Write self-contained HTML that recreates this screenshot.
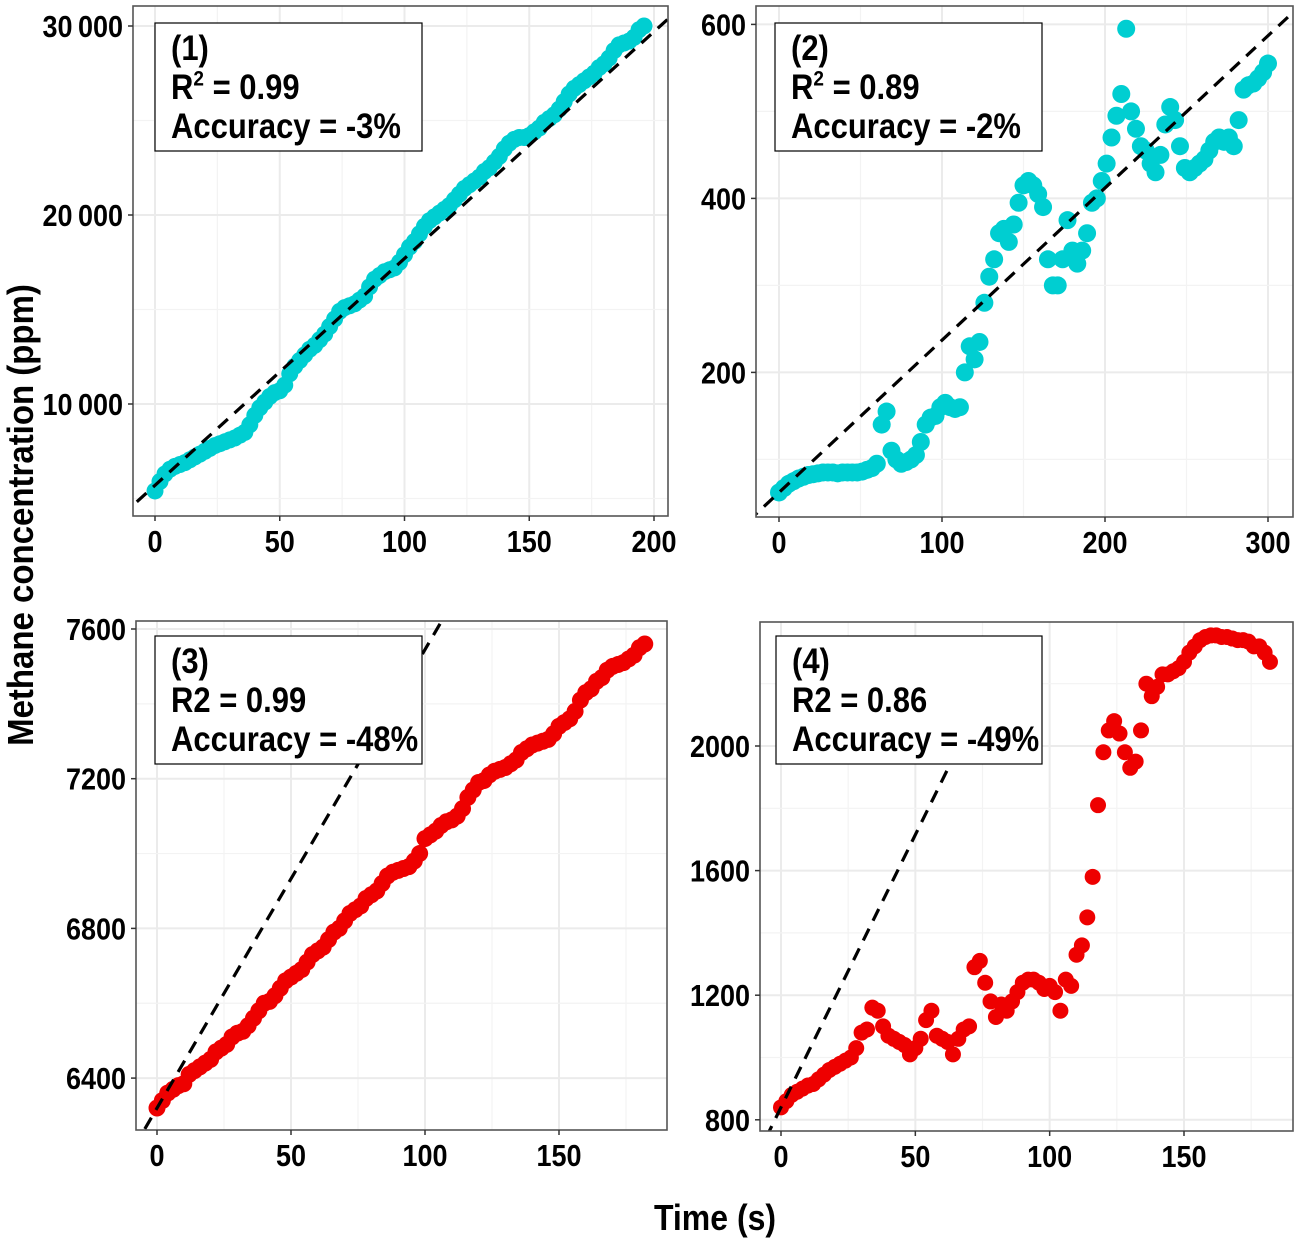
<!DOCTYPE html>
<html><head><meta charset="utf-8">
<style>
html,body{margin:0;padding:0;background:#fff;}
svg{display:block;font-family:"Liberation Sans",Arial,sans-serif;}
</style></head>
<body>
<svg id="chart" width="1296" height="1240" viewBox="0 0 1296 1240" xmlns="http://www.w3.org/2000/svg">
<text x="0" y="0" transform="translate(33,515) rotate(-90) scale(1,1.1)" text-anchor="middle" font-size="33" font-weight="bold">Methane concentration (ppm)</text>
<text x="0" y="0" transform="translate(715,1230) scale(1,1.12)" text-anchor="middle" font-size="32" font-weight="bold">Time (s)</text>
</svg>
<script>
// ---- Panel 1 data (every 2 s) ----
const p1Start = 0, p1Step = 2;
const p1Values = [5400,5900,6300,6550,6700,6800,6900,7050,7200,7350,7500,7650,7800,7900,8000,8100,8200,8350,8500,8900,9400,9800,10100,10400,10600,10700,11000,11600,12000,12300,12600,12900,13100,13400,13700,14100,14500,14900,15100,15200,15300,15500,15700,16200,16600,16800,17000,17100,17200,17500,17900,18300,18600,19000,19400,19700,19900,20100,20300,20500,20800,21100,21400,21600,21800,22000,22300,22500,22800,23100,23500,23800,24000,24100,24100,24200,24400,24600,24900,25100,25300,25600,26000,26400,26700,26900,27100,27300,27500,27800,28000,28300,28700,29000,29100,29200,29400,29800,30000];
const p1XTicks = [0,50,100,150,200];
const p1YTicks = [10000,20000,30000];
const p1YTickLabels = ["10\u2009000","20\u2009000","30\u2009000"];
const p1Fit = [5700,120];
const p1Labels = ["(1)","R\u00b2 = 0.99","Accuracy = -3%"];

// ---- Panel 2 data (every 3 s) ----
const p2Start = 0, p2Step = 3;
const p2Values = [62,67,72,75,78,80,82,83,84,85,85,85,84,85,85,85,85,86,88,90,95,140,155,110,100,95,97,100,105,120,140,148,150,160,165,160,158,160,200,230,215,235,280,310,330,360,365,350,370,395,415,420,415,405,390,330,300,300,330,375,340,325,340,360,395,400,420,440,470,495,520,595,500,480,460,455,440,430,450,485,505,490,460,435,430,435,440,445,455,465,470,465,470,460,490,525,530,532,538,545,555];
const p2XTicks = [0,100,200,300];
const p2YTicks = [200,400,600];
const p2YTickLabels = ["200","400","600"];
const p2Fit = [62,1.75];
const p2Labels = ["(2)","R\u00b2 = 0.89","Accuracy = -2%"];

// ---- Panel 3 data (every 2 s) ----
const p3Start = 0, p3Step = 2;
const p3Values = [6320,6340,6360,6370,6380,6385,6410,6420,6430,6440,6450,6470,6480,6490,6510,6520,6525,6540,6560,6580,6600,6605,6620,6640,6660,6670,6680,6690,6710,6730,6740,6750,6770,6790,6800,6820,6840,6850,6860,6880,6890,6900,6920,6940,6950,6955,6960,6965,6980,7000,7040,7050,7060,7075,7085,7090,7100,7120,7150,7170,7190,7195,7210,7220,7225,7230,7240,7250,7270,7280,7290,7295,7300,7305,7320,7340,7350,7360,7380,7410,7430,7440,7460,7470,7490,7500,7505,7510,7520,7530,7550,7560];
const p3XTicks = [0,50,100,150];
const p3YTicks = [6400,6800,7200,7600];
const p3YTickLabels = ["6400","6800","7200","7600"];
const p3Fit = [6320,12.25];
const p3Labels = ["(3)","R2 = 0.99","Accuracy = -48%"];

// ---- Panel 4 data (every 2 s) ----
const p4Start = 0, p4Step = 2;
const p4Values = [840,860,880,890,900,910,915,930,945,960,970,980,990,1000,1030,1080,1090,1160,1150,1100,1070,1060,1050,1040,1010,1030,1060,1120,1150,1070,1060,1050,1010,1060,1090,1100,1290,1310,1240,1180,1130,1170,1150,1180,1210,1240,1250,1250,1240,1220,1230,1210,1150,1250,1230,1330,1360,1450,1580,1810,1980,2050,2080,2040,1980,1930,1950,2050,2200,2160,2190,2230,2230,2240,2250,2270,2300,2320,2340,2350,2355,2355,2350,2350,2345,2340,2340,2335,2320,2320,2300,2270];
const p4XTicks = [0,50,100,150];
const p4YTicks = [800,1200,1600,2000];
const p4YTickLabels = ["800","1200","1600","2000"];
const p4Fit = [840,17.5];
const p4Labels = ["(4)","R2 = 0.86","Accuracy = -49%"];

const NS = "http://www.w3.org/2000/svg";
const svg = document.getElementById("chart");
function mk(tag, attrs, parent){
  const e = document.createElementNS(NS, tag);
  for (const k in attrs) e.setAttribute(k, attrs[k]);
  (parent||svg).appendChild(e);
  return e;
}

function panel(cfg){
  const g = mk("g", {});
  
  
  const L=cfg.L,R=cfg.R,T=cfg.T,B=cfg.B;
  const sx = v => cfg.x0px + (v - 0) * cfg.xs;
  const sy = v => cfg.yRefPx - (v - cfg.yRef) * cfg.ys;
  const cid = cfg.name + "-clip";
  const defs = mk("defs", {}, g);
  const cp = mk("clipPath", {id: cid}, defs);
  mk("rect", {x:L, y:T, width:R-L, height:B-T}, cp);
  const xt = cfg.xTicks, yt = cfg.yTicks;
  const dx = xt[1]-xt[0], dy = yt[1]-yt[0];
  for (let v = xt[0]-dx/2; sx(v) < R; v += dx/2){
    if (sx(v) <= L) continue;
    const major = Math.abs(((v - xt[0]) / dx) % 1) < 1e-6;
    const ln = mk("line", {x1:sx(v), x2:sx(v), y1:T, y2:B, stroke: major?"#ebebeb":"#f3f3f3", "stroke-width": major?2:1.2}, g);
    
    
  }
  for (let v = yt[0]-dy; sy(v) > T; v += dy/2){
    if (sy(v) >= B) continue;
    const major = Math.abs(((v - yt[0]) / dy) % 1) < 1e-6;
    const ln = mk("line", {x1:L, x2:R, y1:sy(v), y2:sy(v), stroke: major?"#ebebeb":"#f3f3f3", "stroke-width": major?2:1.2}, g);
    
    
  }
  const pg = mk("g", {"clip-path":"url(#"+cid+")"}, g);
  
  
  cfg.values.forEach((v,i)=>{
    const t = cfg.start + i*cfg.step;
    const c = mk("circle", {cx:sx(t), cy:sy(v), r:cfg.r, fill:cfg.color}, pg);
    
    
  });
  const tA = (L - cfg.x0px)/cfg.xs - 5;
  const tB = cfg.fitEnd !== undefined ? cfg.fitEnd : (R - cfg.x0px)/cfg.xs + 5;
  const fl = mk("line", {x1:sx(tA), y1:sy(cfg.fit[0]+cfg.fit[1]*tA), x2:sx(tB), y2:sy(cfg.fit[0]+cfg.fit[1]*tB), stroke:"#000", "stroke-width":3.2, "stroke-dasharray":"13 9", "clip-path":"url(#"+cid+")"}, g);
  
  
  const fr = mk("rect", {x:L, y:T, width:R-L, height:B-T, fill:"none", stroke:"#555", "stroke-width":1.6}, g);
  
  
  xt.forEach(v=>{
    mk("line", {x1:sx(v), x2:sx(v), y1:B, y2:B+5, stroke:"#333", "stroke-width":1.5}, g);
    const tx = mk("text", {x:0, y:0, transform:"translate("+sx(v)+","+(B+36)+") scale(1,1.14)", "text-anchor":"middle", "font-size":27, "font-weight":"bold"}, g);
    tx.textContent = v;
    
    
  });
  yt.forEach((v,i)=>{
    mk("line", {x1:L-5, x2:L, y1:sy(v), y2:sy(v), stroke:"#333", "stroke-width":1.5}, g);
    const tx = mk("text", {x:0, y:0, transform:"translate("+(L-10)+","+(sy(v)+11)+") scale(1,1.14)", "text-anchor":"end", "font-size":27, "font-weight":"bold"}, g);
    tx.textContent = cfg.yLabels[i];
    
    
  });
  const bx = mk("rect", {x:cfg.box[0], y:cfg.box[1], width:cfg.box[2], height:cfg.box[3], fill:"#fff", stroke:"#000", "stroke-width":1.2}, g);
  
  
  cfg.labels.forEach((s,i)=>{
    const tx = mk("text", {x:0, y:0, transform:"translate("+(cfg.box[0]+16)+","+(cfg.box[1]+37+i*39)+") scale(1,1.13)", "font-size":31, "font-weight":"bold"}, g);
    if (s.indexOf("\u00b2")>=0){
      tx.textContent = "R";
      const ts = mk("tspan", {"font-size":19, dy:-12}, tx); ts.textContent = "2";
      const ts2 = mk("tspan", {dy:12}, tx); ts2.textContent = s.slice(2);
    } else tx.textContent = s;
    
    
  });
}

panel({name:"panel-1", L:133,R:668,T:6,B:516, x0px:155, xs:499/200, yRef:30000, yRefPx:26, ys:189/10000,
  xTicks:p1XTicks, yTicks:p1YTicks, yLabels:p1YTickLabels, values:p1Values, start:p1Start, step:p1Step, r:8.5,
  color:"#00CED1", fit:p1Fit, labels:p1Labels, box:[155,23,267,128]});
panel({name:"panel-2", L:756,R:1293,T:6,B:517, x0px:779, xs:489/300, yRef:600, yRefPx:24.4, ys:174/200,
  xTicks:p2XTicks, yTicks:p2YTicks, yLabels:p2YTickLabels, values:p2Values, start:p2Start, step:p2Step, r:9,
  color:"#00CED1", fit:p2Fit, labels:p2Labels, box:[775,23,267,128]});
panel({name:"panel-3", L:136,R:667,T:621,B:1130, x0px:157, xs:402/150, yRef:7600, yRefPx:629, ys:149.7/400,
  xTicks:p3XTicks, yTicks:p3YTicks, yLabels:p3YTickLabels, values:p3Values, start:p3Start, step:p3Step, r:8.5,
  color:"#EE0000", fit:p3Fit, labels:p3Labels, box:[155,636,267,128]});
panel({name:"panel-4", L:760,R:1293,T:622,B:1131, x0px:781, xs:403/150, yRef:2000, yRefPx:746, ys:124.6/400,
  xTicks:p4XTicks, yTicks:p4YTicks, yLabels:p4YTickLabels, values:p4Values, start:p4Start, step:p4Step, r:8,
  color:"#EE0000", fit:p4Fit, fitEnd:70, labels:p4Labels, box:[776,636,266,128]});
</script>
</body></html>
